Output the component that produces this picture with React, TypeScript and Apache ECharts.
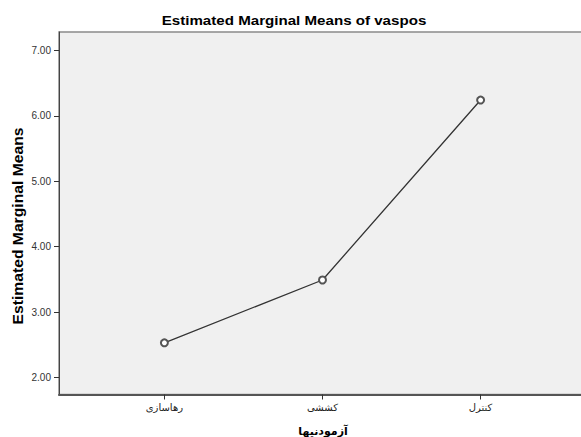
import React, { useEffect, useRef } from "react";
import * as echarts from "echarts";

const categories = ["رهاسازی", "کششی", "کنترل"];
const means = [2.53, 3.49, 6.24];
const yTicks = [2, 3, 4, 5, 6, 7];
const chartTitle = "Estimated Marginal Means of vaspos";
const yTitle = "Estimated Marginal Means";
const xTitle = "آزمودنیها";

export default function App() {
  const ref = useRef<HTMLDivElement>(null);
  useEffect(() => {
    if (!ref.current) return;
    const chart = echarts.init(ref.current, null, { renderer: "svg" });
    const idx = categories.map((_, i) => i);
    chart.setOption({
      animation: false,
      backgroundColor: "#ffffff",
      grid: {
        left: 59,
        top: 32,
        width: 527,
        bottom: 42.5,
        outerBoundsMode: "none",
        show: true,
        backgroundColor: "#f0f0f0",
        borderColor: "#8a8a8a",
        borderWidth: 1.5,
      },
      xAxis: {
        type: "value",
        min: -2 / 3,
        max: 8 / 3,
        splitLine: { show: false },
        axisLine: { show: true, onZero: false, lineStyle: { color: "#555", width: 2 } },
        axisTick: { show: true, length: 5, customValues: idx, lineStyle: { color: "#333" } },
        axisLabel: {
          customValues: idx,
          formatter: (v: number) => categories[Math.round(v)] ?? "",
          fontFamily: "DejaVu Sans",
          fontSize: 10,
          color: "#222",
          margin: 8,
        },
      },
      yAxis: {
        type: "value",
        min: 1.74,
        max: 7.28,
        splitLine: { show: false },
        axisLine: { show: true, onZero: false, lineStyle: { color: "#444", width: 1 } },
        axisTick: { show: true, length: 5, customValues: yTicks, lineStyle: { color: "#333" } },
        axisLabel: {
          customValues: yTicks,
          formatter: (v: number) => v.toFixed(2),
          fontFamily: "Liberation Sans",
          fontSize: 10,
          color: "#333",
          margin: 8,
        },
      },
      graphic: [
        {
          type: "text",
          x: 294,
          y: 20,
          scaleX: 1.12,
          style: {
            text: chartTitle,
            fontFamily: "Liberation Sans",
            fontWeight: "bold",
            fontSize: 13.5,
            fill: "#000",
            align: "center",
            verticalAlign: "middle",
          },
        },
        {
          type: "text",
          x: 18,
          y: 226,
          rotation: Math.PI / 2,
          scaleX: 1.12,
          style: {
            text: yTitle,
            fontFamily: "Liberation Sans",
            fontWeight: "bold",
            fontSize: 14,
            fill: "#000",
            align: "center",
            verticalAlign: "middle",
          },
        },
        {
          type: "text",
          x: 323,
          y: 431,
          style: {
            text: xTitle,
            fontFamily: "DejaVu Sans",
            fontWeight: "bold",
            fontSize: 11,
            fill: "#000",
            align: "center",
            verticalAlign: "middle",
          },
        },
      ],
      series: [
        {
          type: "line",
          data: means.map((m, i) => [i, m]),
          symbol: "emptyCircle",
          symbolSize: 7,
          lineStyle: { color: "#333", width: 1.3 },
          itemStyle: { color: "#555", borderColor: "#555", borderWidth: 1 },
        },
      ],
    });
    return () => chart.dispose();
  }, []);
  return (
    <div
      style={{
        position: "fixed",
        left: 0,
        top: 0,
        width: 581,
        height: 437,
        overflow: "hidden",
      }}
    >
      <div ref={ref} style={{ width: 592, height: 437 }} />
    </div>
  );
}
